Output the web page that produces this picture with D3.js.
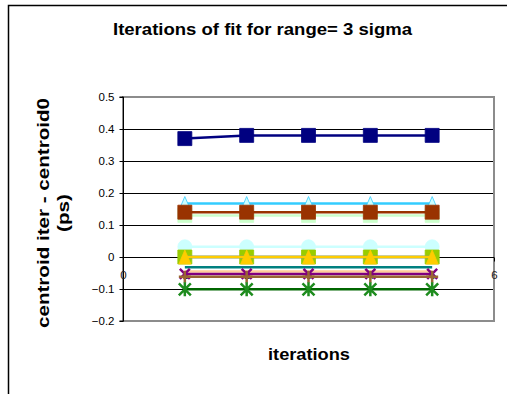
<!DOCTYPE html>
<html>
<head>
<meta charset="utf-8">
<script src="https://cdn.jsdelivr.net/npm/d3@7"></script>
<style>
  html, body { margin: 0; padding: 0; background: #fff; }
  svg { display: block; font-family: "Liberation Sans", Arial, sans-serif; }
</style>
</head>
<body>
<svg id="chart" width="507" height="394"></svg>
<script>
// Iteration index of each fit
const iterations = [1, 2, 3, 4, 5];

// centroid iter - centroid0 (ps), one array per fitted channel
const seriesLightGreen = [0.13, 0.13, 0.13, 0.13, 0.13];
const seriesSky        = [0.167, 0.167, 0.167, 0.167, 0.167];
const seriesBrown      = [0.14, 0.14, 0.14, 0.14, 0.14];
const seriesNavy       = [0.37, 0.38, 0.38, 0.38, 0.38];
const seriesTurquoise  = [0.032, 0.032, 0.032, 0.032, 0.032];
const seriesLime       = [0, 0, 0, 0, 0];
const seriesBlue       = [0, 0, 0, 0, 0];
const seriesGold       = [0, 0, 0, 0, 0];
const seriesTeal       = [-0.032, -0.032, -0.032, -0.032, -0.032];
const seriesPeach      = [-0.045, -0.045, -0.045, -0.045, -0.045];
const seriesPurple     = [-0.053, -0.053, -0.053, -0.053, -0.053];
const seriesTan        = [-0.062, -0.062, -0.062, -0.062, -0.062];
const seriesGreen      = [-0.101, -0.101, -0.101, -0.101, -0.101];

// Axis ticks
const yTicks = [-0.2, -0.1, 0, 0.1, 0.2, 0.3, 0.4, 0.5];
const xTicks = [0, 1, 2, 3, 4, 5, 6];

const titleText = "Iterations of fit for range= 3 sigma";
const xTitle = "iterations";
const yTitleLines = ["centroid iter - centroid0", "(ps)"];

// Drawing order: first entry sits at the back
const series = [
  { values: seriesLightGreen, line: "#CCFFCC", marker: "square",   fill: "#CCFFCC", stroke: "#CCFFCC" },
  { values: seriesSky,        line: "#33CCFF", marker: "triangle", fill: "#CCFFFF", stroke: "#33CCFF" },
  { values: seriesBrown,      line: "#993300", marker: "square",   fill: "#993300", stroke: "#993300" },
  { values: seriesNavy,       line: "#000080", marker: "square",   fill: "#000080", stroke: "#000080" },
  { values: seriesTurquoise,  line: "#CCFFFF", marker: "circle",   fill: "#CCFFFF", stroke: "#CCFFFF" },
  { values: seriesLime,       line: "#99CC00", marker: "square",   fill: "#99CC00", stroke: "#99CC00" },
  { values: seriesBlue,       line: "#3366FF", marker: "none",     fill: "#3366FF", stroke: "#3366FF" },
  { values: seriesGold,       line: "#FFCC00", marker: "triangle", fill: "#FFCC00", stroke: "#FFCC00" },
  { values: seriesTeal,       line: "#008080", marker: "none",     fill: "#008080", stroke: "#008080" },
  { values: seriesPeach,      line: "#FFCC99", marker: "none",     fill: "#FFCC99", stroke: "#FFCC99" },
  { values: seriesPurple,     line: "#800080", marker: "x",        fill: "none",    stroke: "#800080" },
  { values: seriesTan,        line: "#996633", marker: "plus",     fill: "none",    stroke: "#996633" },
  { values: seriesGreen,      line: "#006600", marker: "asterisk", fill: "none",    stroke: "#1E8C1E" }
];

const svg = d3.select("#chart");

// Chart-area frame
svg.append("path")
  .attr("d", "M8.5,394 V5.5 H507")
  .attr("fill", "none").attr("stroke", "#000").attr("stroke-width", 1.5);

const plot = { left: 123, right: 494, top: 97, bottom: 321 };

const x = d3.scaleLinear().domain([0, 6]).range([plot.left, plot.right]);
const y = d3.scaleLinear().domain([-0.2, 0.5]).range([plot.bottom, plot.top]);

// Horizontal gridlines
svg.append("g")
  .selectAll("line")
  .data(yTicks.filter(v => v !== -0.2 && v !== 0.5))
  .join("line")
  .attr("x1", plot.left).attr("x2", plot.right)
  .attr("y1", d => Math.round(y(d)) + 0.5).attr("y2", d => Math.round(y(d)) + 0.5)
  .attr("stroke", "#000").attr("stroke-width", 1);

// Plot-area border
svg.append("rect")
  .attr("x", plot.left).attr("y", plot.top)
  .attr("width", plot.right - plot.left).attr("height", plot.bottom - plot.top)
  .attr("fill", "none").attr("stroke", "#8c8c8c").attr("stroke-width", 2);

// Y axis
const yAxis = d3.axisLeft(y).tickValues(yTicks).tickSize(4).tickPadding(5)
  .tickFormat(d => d3.format("")(+d.toFixed(1)));
const gy = svg.append("g").attr("transform", `translate(${plot.left + 0.5},0)`).call(yAxis);
gy.select(".domain").attr("stroke", "#000").attr("d", `M-4,${plot.top}H0V${plot.bottom}H-4`);
gy.selectAll(".tick line").attr("stroke", "#000");
gy.selectAll(".tick text").attr("font-size", 11.5).attr("fill", "#000")
  .attr("font-family", "'Liberation Sans', Arial, sans-serif");

// X axis on the zero line
const xAxis = d3.axisBottom(x).tickValues(xTicks).tickSize(4).tickPadding(9)
  .tickFormat(d3.format("d"));
const gx = svg.append("g").attr("transform", `translate(0,${Math.round(y(0)) + 0.5})`).call(xAxis);
gx.select(".domain").attr("stroke", "#000").attr("d", `M${plot.left},0H${plot.right}`);
gx.selectAll(".tick line").attr("stroke", "#000");
gx.selectAll(".tick text").attr("font-size", 11.5).attr("fill", "#222")
  .attr("font-family", "'Liberation Sans', Arial, sans-serif");

// Marker shapes
const S = 7;
function markerPath(type) {
  switch (type) {
    case "square":   return `M${-S},${-S}H${S}V${S}H${-S}Z`;
    case "triangle": return `M0,${-S}L${S - 1},${S}H${-(S - 1)}Z`;
    case "circle":   return d3.symbol(d3.symbolCircle, Math.PI * S * S)();
    case "x":        return `M${-5},${-5}L5,5M5,${-5}L-5,5`;
    case "plus":     return `M0,-6V6M-6,0H6`;
    case "asterisk": return `M-6,-6L6,6M6,-6L-6,6M0,-7V7`;
    default:         return null;
  }
}

const line = d3.line().x((d, i) => x(iterations[i])).y(d => y(d));

const gSeries = svg.append("g");
series.forEach(s => {
  const g = gSeries.append("g");
  g.append("path")
    .attr("d", line(s.values))
    .attr("fill", "none").attr("stroke", s.line).attr("stroke-width", 2.5);
  const mp = markerPath(s.marker);
  if (mp) {
    g.selectAll("path.m")
      .data(s.values)
      .join("path")
      .attr("class", "m")
      .attr("transform", (d, i) => `translate(${x(iterations[i])},${y(d)})`)
      .attr("d", mp)
      .attr("fill", s.fill === "none" ? "none" : s.fill)
      .attr("stroke", s.stroke)
      .attr("stroke-width", s.fill === "none" ? 2.5 : 0.8);
  }
});

// Titles (glyphs widened slightly to the Excel-style bold Arial width)
svg.append("text")
  .attr("x", 262.5).attr("y", 35)
  .attr("text-anchor", "middle")
  .attr("font-size", 16).attr("font-weight", "bold")
  .attr("textLength", 299).attr("lengthAdjust", "spacingAndGlyphs")
  .text(titleText);

svg.append("text")
  .attr("x", 309).attr("y", 360)
  .attr("text-anchor", "middle")
  .attr("font-size", 16).attr("font-weight", "bold")
  .attr("textLength", 82).attr("lengthAdjust", "spacingAndGlyphs")
  .text(xTitle);

const yt = svg.append("text")
  .attr("transform", "translate(49,213) rotate(-90)")
  .attr("text-anchor", "middle")
  .attr("font-size", 16).attr("font-weight", "bold");
yt.selectAll("tspan").data(yTitleLines).join("tspan")
  .attr("x", 0).attr("dy", (d, i) => i === 0 ? 0 : 20)
  .attr("textLength", (d, i) => i === 0 ? 230 : 38)
  .attr("lengthAdjust", "spacingAndGlyphs")
  .text(d => d);
</script>
</body>
</html>
